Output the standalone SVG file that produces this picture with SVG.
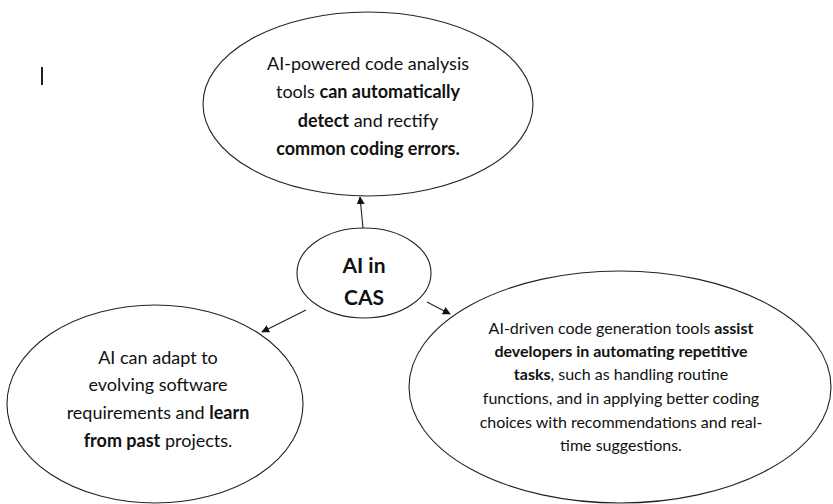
<svg xmlns="http://www.w3.org/2000/svg" width="833" height="504" viewBox="0 0 833 504">
  <defs>
    <marker id="arrow" viewBox="0 0 10 10" refX="9" refY="5" markerWidth="8" markerHeight="8" orient="auto" markerUnits="userSpaceOnUse">
      <path d="M0,0 L10,5 L0,10 z" fill="#111"/>
    </marker>
    <style>
      .node ellipse { fill: #fff; stroke: #222; stroke-width: 1.1; }
      .conn line { stroke: #222; stroke-width: 1.1; marker-end: url(#arrow); }
      text { font-family: Lato, "Open Sans", "Liberation Sans", sans-serif; fill: #111; text-anchor: middle; }
      .t18 { font-size: 18px; }
      .t16 { font-size: 16px; }
      .hub { font-size: 21px; font-weight: bold; }
      .b { font-weight: bold; }
    </style>
  </defs>
  <rect width="833" height="504" fill="#fff"/>

  <!-- text cursor mark -->
  <rect x="41" y="67" width="2" height="18" fill="#222"/>

  <g id="connectors" class="conn">
    <line x1="363" y1="228" x2="360" y2="197"/>
    <line x1="306" y1="310" x2="262" y2="332"/>
    <line x1="427" y1="302" x2="450" y2="314"/>
  </g>

  <g id="node-analysis" class="node">
    <ellipse cx="368" cy="104" rx="165" ry="92"/>
    <text class="t18" x="368" y="70">AI-powered code analysis</text>
    <text class="t18" x="368" y="98">tools <tspan class="b">can automatically</tspan></text>
    <text class="t18" x="368" y="127"><tspan class="b">detect</tspan> and rectify</text>
    <text class="t18" x="368" y="155"><tspan class="b">common coding errors.</tspan></text>
  </g>

  <g id="node-hub" class="node">
    <ellipse cx="364" cy="273" rx="67" ry="45"/>
    <text class="hub" x="364" y="273">AI in</text>
    <text class="hub" x="364" y="305">CAS</text>
  </g>

  <g id="node-adapt" class="node">
    <ellipse cx="155" cy="404" rx="148" ry="99"/>
    <text class="t18" x="158" y="364">AI can adapt to</text>
    <text class="t18" x="158" y="391">evolving software</text>
    <text class="t18" x="158" y="419">requirements and <tspan class="b">learn</tspan></text>
    <text class="t18" x="158" y="447"><tspan class="b">from past</tspan> projects.</text>
  </g>

  <g id="node-generation" class="node">
    <ellipse cx="620" cy="387" rx="211" ry="116"/>
    <text class="t16" x="621" y="334">AI-driven code generation tools <tspan class="b">assist</tspan></text>
    <text class="t16" x="621" y="357"><tspan class="b">developers in automating repetitive</tspan></text>
    <text class="t16" x="621" y="380"><tspan class="b">tasks</tspan>, such as handling routine</text>
    <text class="t16" x="621" y="404">functions, and in applying better coding</text>
    <text class="t16" x="621" y="428">choices with recommendations and real-</text>
    <text class="t16" x="621" y="451">time suggestions.</text>
  </g>
</svg>
